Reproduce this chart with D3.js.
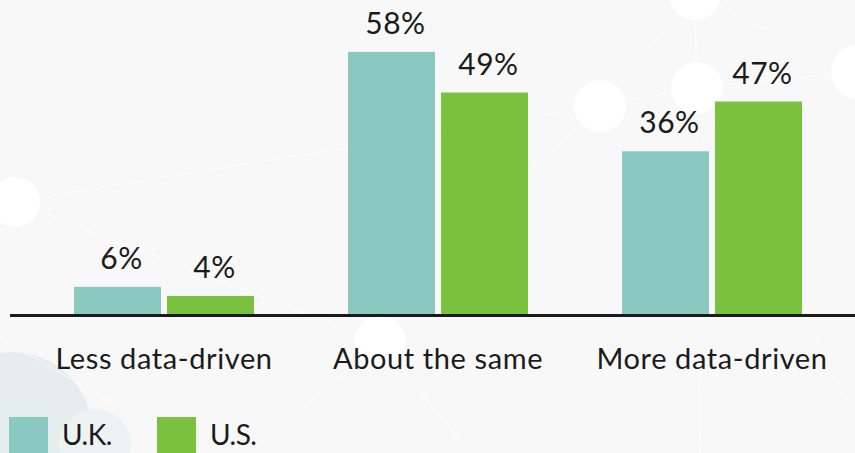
<!DOCTYPE html>
<html>
<head>
<meta charset="utf-8">
<script src="https://cdn.jsdelivr.net/npm/d3@7"></script>
<style>
  html, body { margin: 0; padding: 0; background: #f8f8f8; }
  svg { display: block; }
  text { font-family: "Lato", "Open Sans", sans-serif; fill: #1b1b1b; }
</style>
</head>
<body>
<svg id="chart" width="855" height="453"></svg>
<script>
// Survey answers: is decision-making becoming more or less data-driven?
const categories = ["Less data-driven", "About the same", "More data-driven"];
const seriesNames = ["U.K.", "U.S."];
const ukValues = [6, 58, 36];
const usValues = [4, 49, 47];
const colors = ["#8ac9bf", "#7bc140"];

// Decorative network pattern in the background
const bgNodes = [
  {x: 15, y: 202, r: 25}, {x: 695, y: -6, r: 26}, {x: 600, y: 106, r: 26},
  {x: 697, y: 88, r: 26}, {x: 858, y: 72, r: 27}, {x: 380, y: 342, r: 26}
];
const bgLinks = [[0, 2], [0, 5], [1, 2], [1, 3], [1, 4], [2, 3], [3, 4]];
const bgStrays = [
  [[695, -6], [700, 453]], [[697, 88], [855, 420]], [[600, 106], [500, 200]],
  [[380, 342], [250, 453]], [[380, 342], [470, 453]], [[0, 338], [200, 453]],
  [[695, -6], [640, 0]]
];

const W = 855, H = 453;
const svg = d3.select("#chart");

svg.append("rect").attr("width", W).attr("height", H).attr("fill", "#f8f8f8");

const bg = svg.append("g");
bg.append("circle").attr("cx", 12).attr("cy", 432).attr("r", 80).attr("fill", "#e5eded");
bg.append("circle").attr("cx", 95).attr("cy", 445).attr("r", 36).attr("fill", "#edf2f2");
bg.selectAll("line.link").data(bgLinks).join("line")
  .attr("x1", d => bgNodes[d[0]].x).attr("y1", d => bgNodes[d[0]].y)
  .attr("x2", d => bgNodes[d[1]].x).attr("y2", d => bgNodes[d[1]].y)
  .attr("stroke", "#ffffff").attr("stroke-width", 1).attr("stroke-opacity", 0.75);
bg.selectAll("line.stray").data(bgStrays).join("line")
  .attr("x1", d => d[0][0]).attr("y1", d => d[0][1])
  .attr("x2", d => d[1][0]).attr("y2", d => d[1][1])
  .attr("stroke", "#ffffff").attr("stroke-width", 1).attr("stroke-opacity", 0.6);
bg.selectAll("circle.node").data(bgNodes).join("circle")
  .attr("cx", d => d.x).attr("cy", d => d.y).attr("r", d => d.r)
  .attr("fill", "#ffffff");

// Scales
const baseline = 314;
const y = d3.scaleLinear().domain([0, 60]).range([baseline, baseline - 60 * 4.52]);
const x0 = d3.scaleBand().domain(categories).range([27, 849])
  .paddingInner(0.343).paddingOuter(0.1715);
const x1 = d3.scaleBand().domain(seriesNames).range([0, x0.bandwidth()])
  .paddingInner(0.0645).paddingOuter(0);

const rows = categories.map((c, i) => ({
  category: c,
  values: [
    {series: seriesNames[0], value: ukValues[i], color: colors[0]},
    {series: seriesNames[1], value: usValues[i], color: colors[1]}
  ]
}));

const groups = svg.selectAll("g.group").data(rows).join("g")
  .attr("class", "group")
  .attr("transform", d => `translate(${x0(d.category)},0)`);

groups.selectAll("rect").data(d => d.values).join("rect")
  .attr("x", d => x1(d.series))
  .attr("y", d => y(d.value))
  .attr("width", x1.bandwidth())
  .attr("height", d => baseline - y(d.value))
  .attr("fill", d => d.color);

groups.selectAll("text.val").data(d => d.values).join("text")
  .attr("class", "val")
  .attr("x", d => x1(d.series) + x1.bandwidth() / 2 + 4)
  .attr("y", d => y(d.value) - 18)
  .attr("text-anchor", "middle")
  .attr("font-size", 30)
  .attr("letter-spacing", 0.5)
  .text(d => d.value + "%");

// Axis
const axis = svg.append("g").attr("transform", `translate(0,${baseline + 1.5})`)
  .call(d3.axisBottom(x0).tickSize(0));
axis.select(".domain").attr("d", "M10,0H855").attr("stroke", "#1b1b1b").attr("stroke-width", 3);
axis.selectAll(".tick text")
  .attr("font-size", 29)
  .attr("letter-spacing", 0.6)
  .attr("font-family", "Lato, 'Open Sans', sans-serif")
  .attr("fill", "#1b1b1b")
  .attr("dy", 0)
  .attr("y", 53);

// Legend
const legend = svg.append("g").selectAll("g").data(seriesNames).join("g")
  .attr("transform", (d, i) => `translate(${9 + i * 148},417)`);
legend.append("rect").attr("width", 39).attr("height", 40)
  .attr("fill", (d, i) => colors[i]);
legend.append("text").attr("x", 53).attr("y", 28)
  .attr("font-size", 28).attr("letter-spacing", -0.5).text(d => d);
</script>
</body>
</html>
